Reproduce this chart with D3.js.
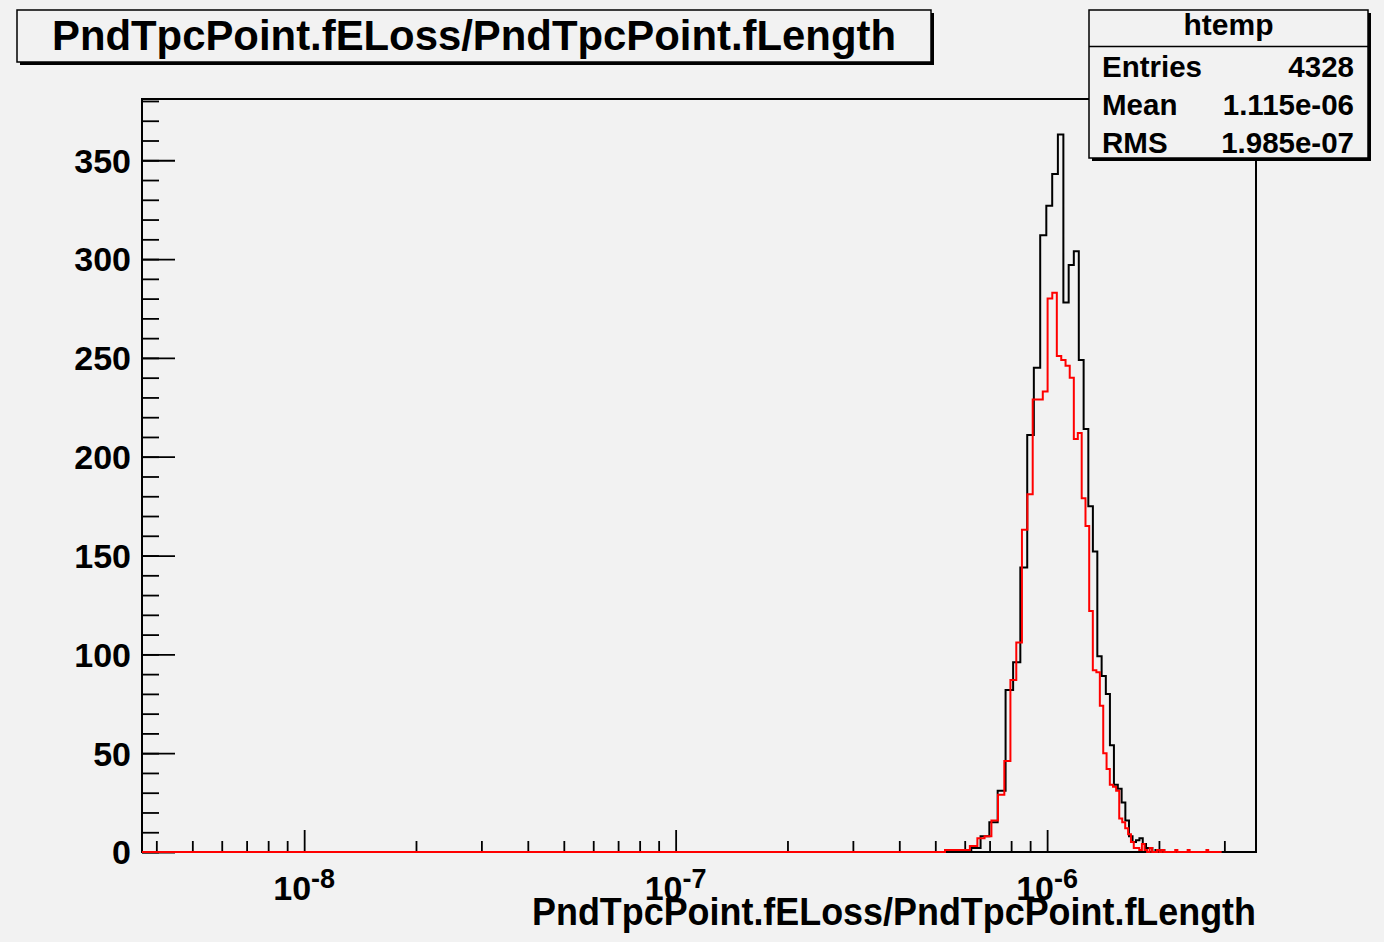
<!DOCTYPE html>
<html>
<head>
<meta charset="utf-8">
<script src="https://cdn.jsdelivr.net/npm/d3@7"></script>
<style>
  body { margin: 0; background: #f2f2f2; }
  svg text { font-family: "Liberation Sans", Arial, Helvetica, sans-serif; font-weight: bold; fill: #000; }
</style>
</head>
<body>
<svg id="chart"></svg>
<script>
// chart values
const titleText = "PndTpcPoint.fELoss/PndTpcPoint.fLength";
const xTitle = "PndTpcPoint.fELoss/PndTpcPoint.fLength";
const statsName = "htemp";
const statsLabels = ["Entries", "Mean", "RMS"];
const statsValues = ["4328", "1.115e-06", "1.985e-07"];

const xDomain = [3.66e-9, 3.65e-6];
const yMax = 381;
const xMajorExps = [-8, -7, -6];
const yMajorTicks = [0, 50, 100, 150, 200, 250, 300, 350];

// black histogram (htemp): 100 equal bins
const blackLow = -4e-9;
const blackWidth = 3.7e-8;
const blackCounts = [
  0, 0, 0, 0, 0, 0, 0, 0, 0, 0,
  0, 0, 0, 0, 0, 0, 0, 2, 8, 15,
  31, 82, 96, 144, 211, 245, 312, 327, 343, 363,
  278, 297, 304, 249, 214, 175, 152, 99, 89, 80,
  54, 34, 32, 25, 16, 8, 5, 6, 7, 4,
  2, 2, 0, 1, 0, 1, 0, 0, 0, 0,
  0, 0, 0, 0, 0, 0, 0, 0, 0, 0,
  0, 0, 0, 0, 0, 0, 0, 0, 0, 0,
  0, 0, 0, 0, 0, 0, 0, 0, 0, 0,
  0, 0, 0, 0, 0, 0, 0, 0, 0, 0
];

// red histogram: 100 equal bins
const redLow = 0;
const redWidth = 2.95e-8;
const redCounts = [
  0, 0, 0, 0, 0, 0, 0, 0, 0, 0,
  0, 0, 0, 0, 0, 0, 0, 0, 1, 1,
  1, 3, 7, 8, 16, 29, 46, 87, 106, 163,
  181, 229, 229, 233, 280, 283, 251, 249, 246, 240,
  209, 212, 179, 165, 122, 92, 91, 74, 50, 42,
  34, 33, 31, 17, 15, 12, 9, 5, 2, 2,
  1, 4, 1, 0, 2, 0, 0, 1, 0, 1,
  0, 0, 0, 0, 0, 1, 0, 0, 0, 0,
  0, 1, 0, 0, 0, 0, 0, 0, 0, 0,
  0, 1, 0, 0, 0, 0, 0, 0, 0, 0
];

const width = 1384;
const height = 942;
const frame = { left: 142, right: 1256, top: 99, bottom: 852 };

const svg = d3.select("#chart")
    .attr("width", width)
    .attr("height", height);

svg.append("rect")
    .attr("width", width)
    .attr("height", height)
    .attr("fill", "#f2f2f2");

const x = d3.scaleLog()
    .domain(xDomain)
    .range([frame.left, frame.right]);

const y = d3.scaleLinear()
    .domain([0, yMax])
    .range([frame.bottom, frame.top]);

// clip for histograms (let the zero line show over the axis)
svg.append("clipPath")
    .attr("id", "frameClip")
  .append("rect")
    .attr("x", frame.left)
    .attr("y", frame.top)
    .attr("width", frame.right - frame.left)
    .attr("height", frame.bottom - frame.top + 3);

function xPos(v) {
  return v <= xDomain[0] ? x(xDomain[0]) : x(v);
}

function histPoints(low, w, counts) {
  const pts = counts.map((c, i) => [low + i * w, c]);
  pts.push([low + counts.length * w, counts[counts.length - 1]]);
  return pts;
}

const step = d3.line()
    .x(d => xPos(d[0]))
    .y(d => y(d[1]))
    .curve(d3.curveStepAfter);

// frame
svg.append("rect")
    .attr("x", frame.left)
    .attr("y", frame.top)
    .attr("width", frame.right - frame.left)
    .attr("height", frame.bottom - frame.top)
    .attr("fill", "none")
    .attr("stroke", "#000")
    .attr("stroke-width", 2);

// y axis ticks (inward)
const yAxisMinor = svg.append("g")
    .attr("transform", `translate(${frame.left},0)`)
    .call(d3.axisLeft(y).tickValues(d3.range(0, yMax, 10)).tickSize(-17).tickFormat(""));
yAxisMinor.select(".domain").remove();

const yAxis = svg.append("g")
    .attr("transform", `translate(${frame.left},0)`)
    .call(d3.axisLeft(y).tickValues(yMajorTicks).tickSize(-33).tickPadding(11));
yAxis.select(".domain").remove();
yAxis.selectAll("text")
    .attr("dy", "0.35em")
    .style("font-size", "34px");

// x axis ticks (inward)
const xMinorVals = [];
for (let e = -9; e <= -6; e++) {
  for (let m = 2; m <= 9; m++) {
    const v = m * Math.pow(10, e);
    if (v > xDomain[0] && v < xDomain[1]) xMinorVals.push(v);
  }
}
const xMajorVals = xMajorExps.map(e => Math.pow(10, e));

const xAxisMinor = svg.append("g")
    .attr("transform", `translate(0,${frame.bottom})`)
    .call(d3.axisBottom(x).tickValues(xMinorVals).tickSize(-11).tickFormat(""));
xAxisMinor.select(".domain").remove();

const xAxisMajor = svg.append("g")
    .attr("transform", `translate(0,${frame.bottom})`)
    .call(d3.axisBottom(x).tickValues(xMajorVals).tickSize(-22).tickFormat(""));
xAxisMajor.select(".domain").remove();

svg.selectAll(".tick line")
    .attr("stroke", "#000")
    .attr("stroke-width", 1.8);

// x tick labels 10^n
const xLabels = svg.append("g");
xMajorExps.forEach(e => {
  const t = xLabels.append("text")
      .attr("x", x(Math.pow(10, e)))
      .attr("y", 900)
      .attr("text-anchor", "middle")
      .style("font-size", "34px");
  t.append("tspan").text("10");
  t.append("tspan")
      .attr("dy", -12)
      .style("font-size", "27px")
      .text("-" + Math.abs(e));
});

// histograms
const plot = svg.append("g").attr("clip-path", "url(#frameClip)");

plot.append("path")
    .datum(histPoints(blackLow, blackWidth, blackCounts))
    .attr("fill", "none")
    .attr("stroke", "#000")
    .attr("stroke-width", 2)
    .attr("d", step);

plot.append("path")
    .datum(histPoints(redLow, redWidth, redCounts))
    .attr("fill", "none")
    .attr("stroke", "#ff0000")
    .attr("stroke-width", 2)
    .attr("d", step);

// x axis title
svg.append("text")
    .attr("x", frame.right)
    .attr("y", 925)
    .attr("text-anchor", "end")
    .attr("textLength", 724)
    .attr("lengthAdjust", "spacingAndGlyphs")
    .style("font-size", "38px")
    .text(xTitle);

// title box
const tb = { x: 17, y: 10, w: 914, h: 52 };
svg.append("rect")
    .attr("x", tb.x + 3).attr("y", tb.y + 3)
    .attr("width", tb.w).attr("height", tb.h)
    .attr("fill", "#000");
svg.append("rect")
    .attr("x", tb.x).attr("y", tb.y)
    .attr("width", tb.w).attr("height", tb.h)
    .attr("fill", "#f2f2f2")
    .attr("stroke", "#000")
    .attr("stroke-width", 1.5);
svg.append("text")
    .attr("x", tb.x + tb.w / 2)
    .attr("y", 50)
    .attr("text-anchor", "middle")
    .attr("textLength", 844)
    .attr("lengthAdjust", "spacingAndGlyphs")
    .style("font-size", "43px")
    .text(titleText);

// stats box
const sb = { x: 1089, y: 10, w: 279, h: 148 };
svg.append("rect")
    .attr("x", sb.x + 3).attr("y", sb.y + 3)
    .attr("width", sb.w).attr("height", sb.h)
    .attr("fill", "#000");
svg.append("rect")
    .attr("x", sb.x).attr("y", sb.y)
    .attr("width", sb.w).attr("height", sb.h)
    .attr("fill", "#f2f2f2")
    .attr("stroke", "#000")
    .attr("stroke-width", 1.5);
svg.append("line")
    .attr("x1", sb.x).attr("x2", sb.x + sb.w)
    .attr("y1", 46.5).attr("y2", 46.5)
    .attr("stroke", "#000")
    .attr("stroke-width", 1.5);
svg.append("text")
    .attr("x", sb.x + sb.w / 2)
    .attr("y", 35)
    .attr("text-anchor", "middle")
    .style("font-size", "30px")
    .text(statsName);

const rowY = [77, 115, 153];
statsLabels.forEach((lab, i) => {
  svg.append("text")
      .attr("x", 1102)
      .attr("y", rowY[i])
      .style("font-size", "29.5px")
      .text(lab);
  svg.append("text")
      .attr("x", 1354)
      .attr("y", rowY[i])
      .attr("text-anchor", "end")
      .style("font-size", "29.5px")
      .text(statsValues[i]);
});
</script>
</body>
</html>
